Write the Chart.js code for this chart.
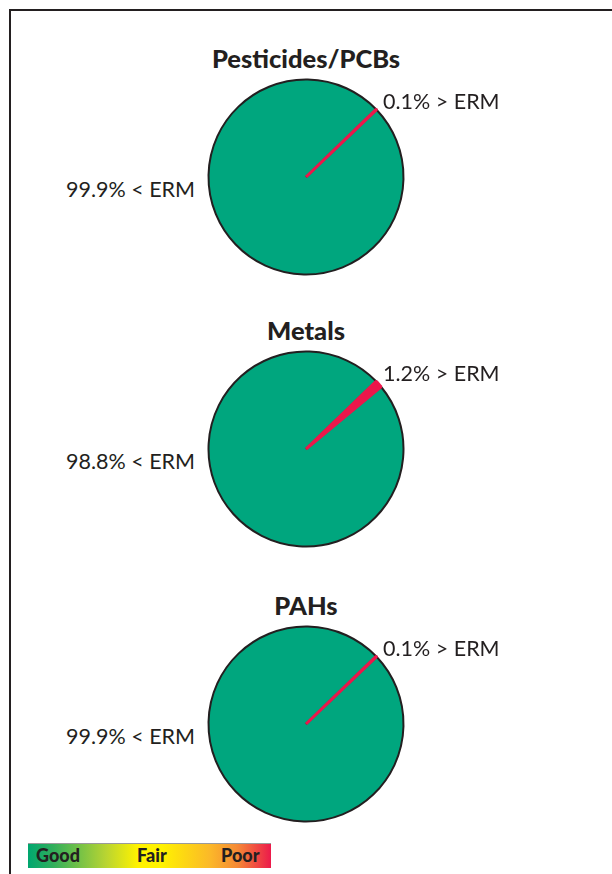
<!DOCTYPE html>
<html>
<head>
<meta charset="utf-8">
<script src="https://cdn.jsdelivr.net/npm/chart.js@4.4.1/dist/chart.umd.min.js"></script>
<style>
  body { margin: 0; background: #fff; font-family: Lato, "Open Sans", sans-serif; color: #231f20; }
  #page { position: relative; width: 612px; height: 874px; overflow: hidden; }
  .frame-top { position: absolute; left: 9px; top: 9px; width: 603px; height: 2px; background: #231f20; }
  .frame-left { position: absolute; left: 9px; top: 9px; width: 2px; height: 865px; background: #231f20; }
  .title { position: absolute; width: 300px; left: 156px; text-align: center; font-weight: 900; font-size: 25.5px; }
  .lbl { position: absolute; font-size: 21.5px; white-space: nowrap; }
  .lbl.left { text-align: right; width: 180px; left: 15px; }
  canvas.pie { position: absolute; }
  #scale { position: absolute; left: 28px; top: 843px; width: 243px; height: 25px;
    background: linear-gradient(to right, #00a66f 0%, #2fae5c 10%, #b8d432 32%, #fff200 45%, #fff200 55%, #fbb829 75%, #f58a35 86%, #ec1a4b 100%);
    border-top: 1px solid #9a9a9a; box-sizing: border-box; font-weight: 900; font-size: 18px; }
  #scale span { position: absolute; top: 0px; }
</style>
</head>
<body>
<div id="page">
  <div class="frame-top"></div>
  <div class="frame-left"></div>
  <div id="charts"></div>
  <div id="scale"><span style="left:8px">Good</span><span style="left:109px">Fair</span><span style="left:193px">Poor</span></div>
</div>
<script>
// sediment contaminant groups and share of samples above / below ERM
const groups = ['Pesticides/PCBs', 'Metals', 'PAHs'];
const pctBelow = [99.9, 98.8, 99.9];
const pctAbove = [0.1, 1.2, 0.1];

const sliceColors = ['#00a67e', '#ec174b'];
// clockwise angle from 12 o'clock where the "> ERM" slice begins
const aboveStart = 46;

const centers = [[306, 177], [306, 449], [306, 724]];
const size = 198;

const page = document.getElementById('charts');

groups.forEach((name, i) => {
    const [cx, cy] = centers[i];

    const title = document.createElement('div');
    title.className = 'title';
    title.style.top = (cy - 134) + 'px';
    title.textContent = name;
    page.appendChild(title);

    const canvas = document.createElement('canvas');
    canvas.className = 'pie';
    canvas.width = size;
    canvas.height = size;
    canvas.style.left = (cx - size / 2) + 'px';
    canvas.style.top = (cy - size / 2) + 'px';
    page.appendChild(canvas);

    const total = pctBelow[i] + pctAbove[i];
    new Chart(canvas.getContext('2d'), {
        type: 'pie',
        data: {
            labels: ['< ERM', '> ERM'],
            datasets: [{
                data: [pctBelow[i], pctAbove[i]],
                backgroundColor: sliceColors,
                borderColor: ['#231f20', sliceColors[1]],
                borderWidth: [2, 3]
            }]
        },
        options: {
            responsive: false,
            animation: false,
            rotation: aboveStart - 360 * pctBelow[i] / total,
            layout: { padding: 0 },
            plugins: { legend: { display: false }, tooltip: { enabled: false } }
        }
    });

    const right = document.createElement('div');
    right.className = 'lbl';
    right.style.left = (cx + 77) + 'px';
    right.style.top = (cy - 89) + 'px';
    right.textContent = pctAbove[i] + '% > ERM';
    page.appendChild(right);

    const left = document.createElement('div');
    left.className = 'lbl left';
    left.style.top = (cy - 1) + 'px';
    left.textContent = pctBelow[i] + '% < ERM';
    page.appendChild(left);
});
</script>
</body>
</html>
